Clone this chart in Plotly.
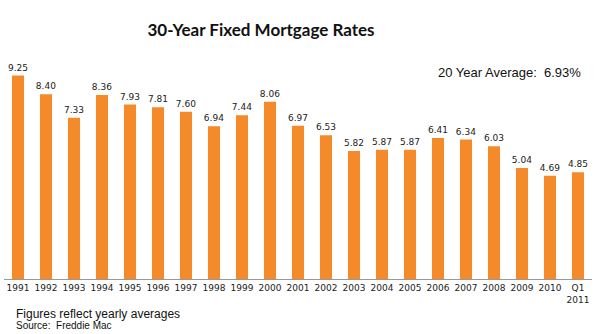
import plotly.graph_objects as go

categories = ["1991", "1992", "1993", "1994", "1995", "1996", "1997", "1998", "1999", "2000",
              "2001", "2002", "2003", "2004", "2005", "2006", "2007", "2008", "2009", "2010", "Q1<br>2011"]
rates = [9.25, 8.40, 7.33, 8.36, 7.93, 7.81, 7.60, 6.94, 7.44, 8.06,
         6.97, 6.53, 5.82, 5.87, 5.87, 6.41, 6.34, 6.03, 5.04, 4.69, 4.85]
labels = [f"{v:.2f}" for v in rates]

fig = go.Figure()
fig.add_trace(go.Bar(
    x=categories, y=rates, text=labels, textposition="outside",
    constraintext="none",
    textfont=dict(family="DejaVu Sans", size=9, color="#222222"),
    marker=dict(color="#F58A2A", line=dict(width=0)),
    cliponaxis=False,
))

fig.update_layout(
    width=600, height=334,
    margin=dict(l=4, r=8, t=59, b=55),
    paper_bgcolor="white", plot_bgcolor="white",
    bargap=0.57,
    showlegend=False,
    title=dict(text="<b>30-Year Fixed Mortgage Rates</b>", x=0.435, xanchor="center",
               y=0.91, yanchor="middle",
               font=dict(family="Lato", size=17, color="#111111")),
    xaxis=dict(type="category", showline=True, linecolor="#999999", linewidth=1,
               ticks="", tickfont=dict(family="DejaVu Sans", size=9, color="#222222"),
               range=[-0.5, 20.5], fixedrange=True),
    yaxis=dict(visible=False, range=[0, 10], showgrid=False, zeroline=False),
    annotations=[
        dict(text="20 Year Average:  6.93%", xref="paper", yref="paper",
             x=0.985, y=0.94, xanchor="right", yanchor="middle", showarrow=False,
             font=dict(family="Liberation Sans", size=13, color="#111111")),
        dict(text="Figures reflect yearly averages", xref="paper", yref="paper",
             x=0.017, y=-0.118, xanchor="left", yanchor="top", showarrow=False,
             font=dict(family="Liberation Sans", size=12, color="#111111")),
        dict(text="Source:  Freddie Mac", xref="paper", yref="paper",
             x=0.017, y=-0.177, xanchor="left", yanchor="top", showarrow=False,
             font=dict(family="Liberation Sans", size=10, color="#111111")),
    ],
)

fig.write_html("out.html")
